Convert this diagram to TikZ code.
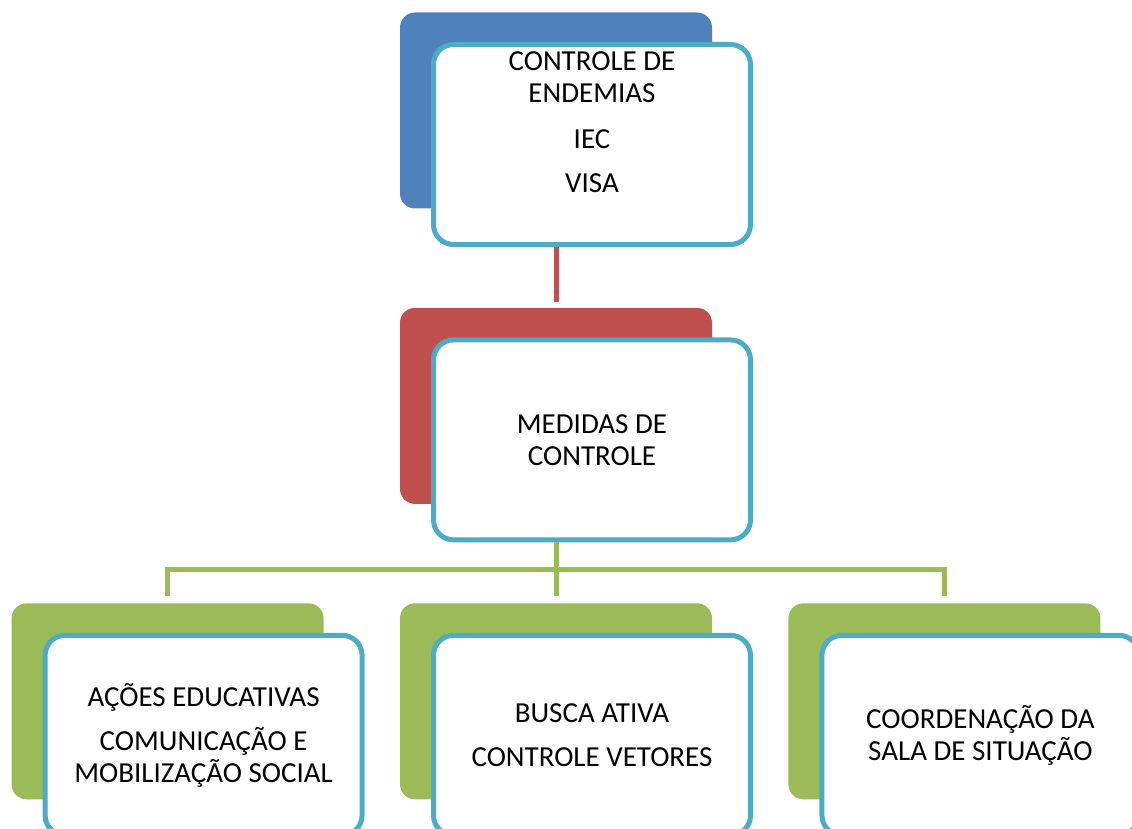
\documentclass[tikz,border=0pt]{standalone}
\usepackage{fontspec}
\setmainfont{Carlito}
\usetikzlibrary{positioning}
\definecolor{boxblue}{HTML}{4F81BD}
\definecolor{boxred}{HTML}{C0504D}
\definecolor{boxgreen}{HTML}{9BBB59}
\definecolor{boxteal}{HTML}{4BACC6}
\tikzset{%
  % Specifications for style of nodes:
         txt/.style = {align=center, font=\fontsize{29}{32}\selectfont},
        back/.style = {rectangle, rounded corners=15pt, draw=none,
                       minimum width=312pt, minimum height=196pt},
    backBlue/.style = {back, fill=boxblue},
     backRed/.style = {back, fill=boxred},
   backGreen/.style = {back, fill=boxgreen},
       front/.style = {txt, rectangle, rounded corners=20pt, draw=boxteal,
                       line width=5pt, fill=white,
                       minimum width=317pt, minimum height=200pt},
     redLine/.style = {draw=boxred, line width=5pt},
   greenLine/.style = {draw=boxgreen, line width=5pt},
}
\begin{document}
\begin{tikzpicture}[x=1pt, y=-1pt, node distance=99pt and 76pt]
\useasboundingbox (0,0) rectangle (1132,829);

\node (EndBack)   [backBlue]   at (556,110.5)  {};
\node (EndBox)    [front]      at ([xshift=36pt,yshift=-34pt]EndBack) {};
\node (EndText)   [txt, inner sep=0pt, below=9pt of EndBox.north]
      {CONTROLE DE\\ENDEMIAS\\[14pt]IEC\\[12pt]VISA};

\node (MedBack)   [backRed, below=of EndBack]     {};
\node (MedBox)    [front]      at ([xshift=36pt,yshift=-34pt]MedBack)
      {MEDIDAS DE\\CONTROLE};

\node (BusBack)   [backGreen, below=of MedBack]   {};
\node (EduBack)   [backGreen, left=of BusBack]    {};
\node (CooBack)   [backGreen, right=of BusBack]   {};

\node (EduBox)    [front]      at ([xshift=36pt,yshift=-34pt]EduBack)
      {AÇÕES EDUCATIVAS\\[12pt]COMUNICAÇÃO E\\MOBILIZAÇÃO SOCIAL};
\node (BusBox)    [front]      at ([xshift=36pt,yshift=-34pt]BusBack)
      {BUSCA ATIVA\\[12pt]CONTROLE VETORES};
\node (CooBox)    [front]      at ([xshift=36pt,yshift=-34pt]CooBack)
      {COORDENAÇÃO DA\\SALA DE SITUAÇÃO};

\coordinate (Split) at ([yshift=-27pt]MedBox.south -| MedBack);

\draw[redLine, shorten >=6pt]   (EndBox.south -| EndBack) -- (MedBack.north);
\draw[greenLine, shorten >=7pt] (MedBox.south -| MedBack) -- (BusBack.north);
\draw[greenLine] ([yshift=7pt]EduBack.north) |- (Split)
                 -| ([yshift=7pt]CooBack.north);
\end{tikzpicture}
\end{document}
